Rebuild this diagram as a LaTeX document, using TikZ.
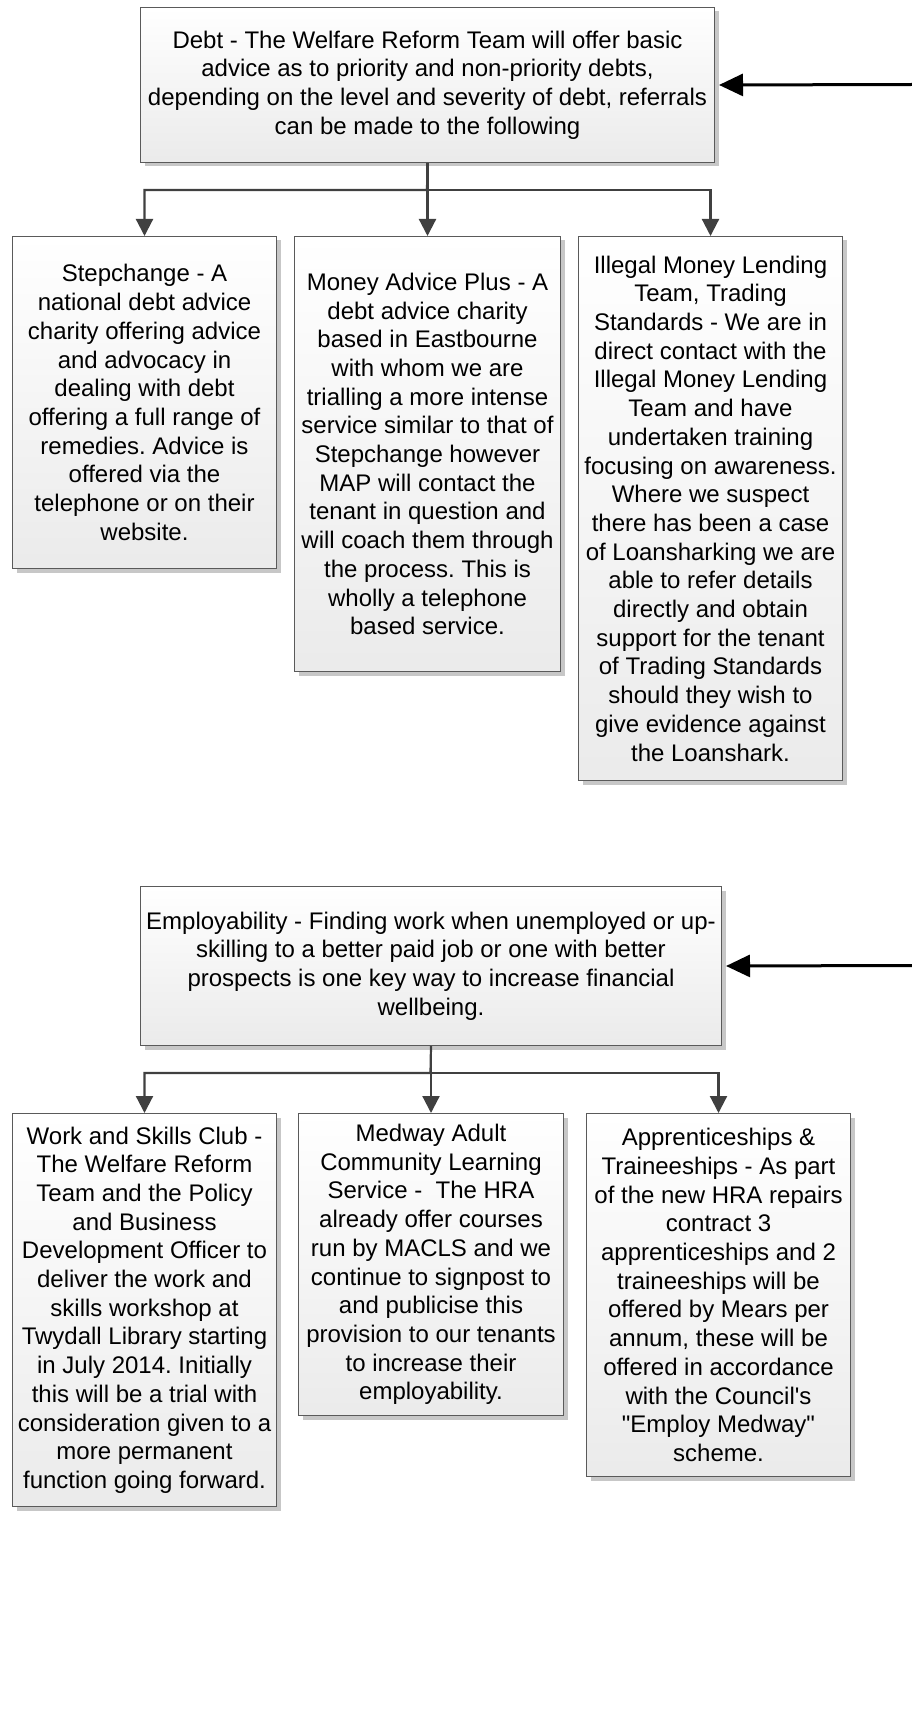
\documentclass[tikz,border=0pt]{standalone}
\usepackage{fontspec}
\setmainfont{Liberation Sans}
\usetikzlibrary{arrows.meta,shadows}

\definecolor{boxline}{HTML}{5A5A5A}
\definecolor{linkgrey}{HTML}{404040}

\tikzset{
  card/.style={draw=boxline, line width=1pt, top color=white, bottom color=black!8,
    drop shadow={shadow xshift=4pt, shadow yshift=-4pt, fill=black!22, opacity=1},
    anchor=north west, align=center, inner sep=0pt,
    font=\fontsize{24}{28.7}\selectfont\frenchspacing},
  link/.style={draw=linkgrey, line width=2.2pt, -{Triangle[length=17pt,width=17pt]}},
  feed/.style={draw=black, line width=3pt, -{Triangle[length=24pt,width=22pt]}}
}

\begin{document}
\begin{tikzpicture}[x=1pt,y=-1pt]
  \useasboundingbox (0,0) rectangle (912,1728);
  \node[card, minimum width=574pt, minimum height=155pt] (debt) at (140,7)
    {Debt - The Welfare Reform Team will offer basic\\advice as to priority and non-priority debts,\\depending on the level and severity of debt, referrals\\can be made to the following};
  \node[card, minimum width=264pt, minimum height=332pt] (step) at (12,236)
    {Stepchange - A\\national debt advice\\charity offering advice\\and advocacy in\\dealing with debt\\offering a full range of\\remedies. Advice is\\offered via the\\telephone or on their\\website.};
  \node[card, minimum width=266pt, minimum height=435pt] (map) at (294,236)
    {Money Advice Plus - A\\debt advice charity\\based in Eastbourne\\with whom we are\\trialling a more intense\\service similar to that of\\Stepchange however\\MAP will contact the\\tenant in question and\\will coach them through\\the process. This is\\wholly a telephone\\based service.};
  \node[card, minimum width=264pt, minimum height=544pt] (lend) at (578,236)
    {Illegal Money Lending\\Team, Trading\\Standards - We are in\\direct contact with the\\Illegal Money Lending\\Team and have\\undertaken training\\focusing on awareness.\\Where we suspect\\there has been a case\\of Loansharking we are\\able to refer details\\directly and obtain\\support for the tenant\\of Trading Standards\\should they wish to\\give evidence against\\the Loanshark.};
  \coordinate (fork1) at (427,190);
  \coordinate (in1) at (912,84.5);
  \draw[link] (debt.south) -- (fork1) -| (step.north);
  \draw[link] (debt.south) -- (map.north);
  \draw[link] (fork1) -| (lend.north);
  \draw[feed, shorten >=4pt] (in1) -- (debt.east);

  \node[card, minimum width=581pt, minimum height=159pt] (emp) at (140,886)
    {Employability - Finding work when unemployed or up-\\skilling to a better paid job or one with better\\prospects is one key way to increase financial\\wellbeing.};
  \node[card, minimum width=264pt, minimum height=393pt] (club) at (12,1113)
    {Work and Skills Club -\\The Welfare Reform\\Team and the Policy\\and Business\\Development Officer to\\deliver the work and\\skills workshop at\\Twydall Library starting\\in July 2014. Initially\\this will be a trial with\\consideration given to a\\more permanent\\function going forward.};
  \node[card, minimum width=265pt, minimum height=302pt] (macls) at (298,1113)
    {Medway Adult\\Community Learning\\Service -\ \ The HRA\\already offer courses\\run by MACLS and we\\continue to signpost to\\and publicise this\\provision to our tenants\\to increase their\\employability.};
  \node[card, minimum width=264pt, minimum height=363pt] (appr) at (586,1113)
    {Apprenticeships \&\\Traineeships - As part\\of the new HRA repairs\\contract 3\\apprenticeships and 2\\traineeships will be\\offered by Mears per\\annum, these will be\\offered in accordance\\with the Council\textquotesingle s\\\textquotedbl Employ Medway\textquotedbl\\scheme.};
  \coordinate (fork2) at (430.5,1073);
  \coordinate (in2) at (912,965.5);
  \draw[link] (emp.south) -- (fork2) -| (club.north);
  \draw[link] (emp.south) -- (macls.north);
  \draw[link] (fork2) -| (appr.north);
  \draw[feed, shorten >=4pt] (in2) -- (emp.east);
\end{tikzpicture}
\end{document}
